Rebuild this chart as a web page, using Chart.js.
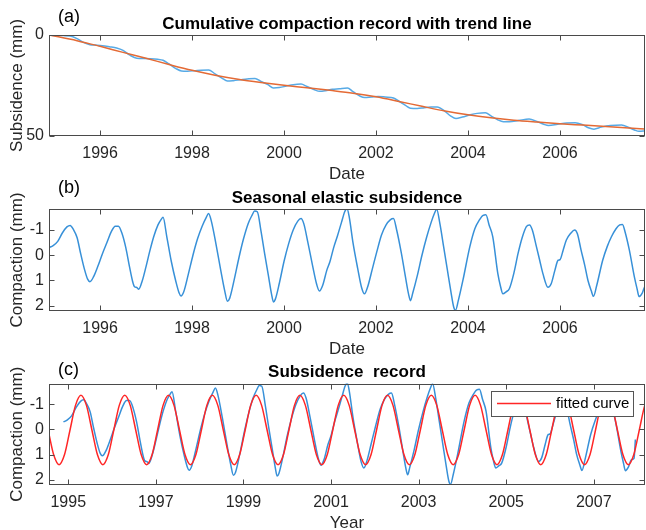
<!DOCTYPE html>
<html><head><meta charset="utf-8">
<script src="https://cdn.jsdelivr.net/npm/chart.js@4/dist/chart.umd.min.js"></script>
<style>
html,body{margin:0;padding:0;background:#fff;width:646px;height:530px;overflow:hidden;position:relative;}
canvas{position:absolute;left:0;}
</style></head><body>
<canvas id="ca" width="646" height="185" style="top:0px"></canvas>
<canvas id="cb" width="646" height="190" style="top:170px"></canvas>
<canvas id="cc" width="646" height="184" style="top:350px"></canvas>
<script>
// ---------- data ----------
const cumDates = [1994.89,1995.05,1995.20,1995.35,1995.50,1995.65,1995.78,1995.90,1996.05,1996.20,1996.36,1996.50,1996.65,1996.80,1996.95,1997.10,1997.25,1997.37,1997.50,1997.65,1997.77,1997.90,1998.05,1998.20,1998.36,1998.50,1998.65,1998.77,1998.90,1999.05,1999.20,1999.37,1999.50,1999.65,1999.77,1999.90,2000.05,2000.20,2000.37,2000.50,2000.65,2000.78,2000.90,2001.05,2001.20,2001.38,2001.50,2001.65,2001.75,2001.90,2002.05,2002.20,2002.38,2002.50,2002.65,2002.75,2002.90,2003.05,2003.20,2003.33,2003.50,2003.62,2003.74,2003.88,2004.05,2004.20,2004.38,2004.50,2004.65,2004.77,2004.90,2005.10,2005.33,2005.50,2005.65,2005.75,2005.95,2006.15,2006.33,2006.50,2006.62,2006.74,2006.90,2007.10,2007.34,2007.50,2007.62,2007.72,2007.86];
const cumValues = [0.0,0.2,0.3,0.5,1.8,3.8,4.8,5.0,5.3,5.8,6.4,7.6,10.0,11.5,11.6,11.7,12.0,12.5,14.3,16.6,17.8,17.9,17.7,17.4,17.3,19.2,21.3,22.8,22.6,22.2,21.8,21.5,23.0,24.6,26.2,26.0,25.3,24.6,24.3,25.5,27.0,27.9,27.6,26.9,26.6,26.2,28.0,30.2,31.0,30.7,30.4,30.7,31.2,32.8,35.0,36.3,36.4,36.0,35.7,35.6,37.8,40.0,41.3,40.6,39.5,38.8,38.5,40.0,42.0,42.9,42.9,42.3,41.6,42.8,44.2,44.8,44.2,43.6,43.4,44.5,45.9,46.6,45.6,44.8,44.6,45.8,47.0,47.7,47.5];

const trendDates = [1994.89,1995.5,1996,1996.5,1997,1997.5,1998,1998.5,1999,1999.5,2000,2000.5,2001,2001.5,2002,2002.5,2003,2003.5,2004,2004.5,2005,2005.5,2006,2006.5,2007,2007.5,2007.86];
const trendValues = [0,2.8,5.6,8.6,11.5,14.6,17.5,19.9,21.9,23.5,24.9,26.1,27.4,28.8,30.6,32.9,35.3,37.6,39.5,41.0,42.2,43.1,43.9,44.6,45.3,46.0,46.6];

const seasDates = [1994.89,1994.98,1995.08,1995.18,1995.28,1995.35,1995.42,1995.50,1995.58,1995.66,1995.73,1995.78,1995.86,1995.95,1996.05,1996.15,1996.25,1996.33,1996.40,1996.48,1996.56,1996.64,1996.71,1996.75,1996.80,1996.84,1996.92,1997.00,1997.08,1997.17,1997.26,1997.33,1997.37,1997.45,1997.55,1997.65,1997.72,1997.76,1997.82,1997.92,1998.02,1998.12,1998.22,1998.31,1998.36,1998.42,1998.52,1998.62,1998.71,1998.77,1998.82,1998.92,1999.02,1999.12,1999.22,1999.31,1999.36,1999.42,1999.50,1999.58,1999.66,1999.73,1999.77,1999.81,1999.90,2000.00,2000.10,2000.20,2000.30,2000.37,2000.43,2000.52,2000.62,2000.71,2000.77,2000.84,2000.93,2001.00,2001.08,2001.16,2001.25,2001.32,2001.37,2001.42,2001.50,2001.60,2001.69,2001.75,2001.82,2001.92,2002.02,2002.12,2002.22,2002.31,2002.38,2002.45,2002.55,2002.64,2002.71,2002.75,2002.80,2002.90,2003.00,2003.10,2003.20,2003.27,2003.32,2003.39,2003.47,2003.55,2003.63,2003.69,2003.73,2003.79,2003.89,2004.04,2004.15,2004.25,2004.33,2004.39,2004.46,2004.54,2004.65,2004.71,2004.76,2004.83,2004.90,2005.00,2005.09,2005.18,2005.27,2005.34,2005.40,2005.49,2005.56,2005.63,2005.74,2005.81,2005.89,2005.96,2006.00,2006.07,2006.14,2006.24,2006.32,2006.38,2006.46,2006.54,2006.61,2006.68,2006.73,2006.80,2006.93,2007.03,2007.12,2007.22,2007.30,2007.36,2007.42,2007.51,2007.62,2007.68,2007.72,2007.79,2007.86,2007.92,2007.95];
const seasValues = [-0.30,-0.38,-0.55,-0.88,-1.12,-1.18,-1.02,-0.70,-0.05,0.55,0.95,1.05,0.85,0.45,-0.05,-0.50,-0.95,-1.15,-1.15,-0.85,-0.30,0.45,1.05,1.25,1.28,1.35,1.00,0.45,-0.15,-0.75,-1.20,-1.42,-1.50,-0.75,0.25,1.05,1.50,1.62,1.45,0.75,0.00,-0.65,-1.15,-1.50,-1.65,-1.35,-0.45,0.55,1.40,1.82,1.70,0.95,0.10,-0.65,-1.25,-1.60,-1.75,-1.72,-0.95,-0.05,0.80,1.55,1.85,1.75,1.10,0.25,-0.45,-1.00,-1.35,-1.45,-1.25,-0.50,0.40,1.15,1.42,1.20,0.60,0.25,-0.30,-0.75,-1.30,-1.72,-1.85,-1.50,-0.50,0.50,1.30,1.53,1.25,0.55,-0.15,-0.80,-1.20,-1.40,-1.45,-1.00,-0.10,0.85,1.55,1.80,1.50,0.80,0.00,-0.70,-1.30,-1.65,-1.82,-1.25,-0.35,0.55,1.45,2.05,2.18,1.80,1.00,-0.33,-1.05,-1.40,-1.58,-1.60,-1.20,-0.73,0.73,1.25,1.53,1.45,1.33,0.70,-0.07,-0.70,-1.13,-1.20,-1.00,-0.33,0.20,0.73,1.27,1.13,0.60,0.20,0.18,-0.20,-0.60,-0.88,-1.00,-0.85,-0.20,0.40,1.00,1.40,1.63,1.20,0.20,-0.35,-0.73,-1.05,-1.20,-1.22,-0.90,-0.20,0.87,1.35,1.64,1.50,1.20,1.15,0.40];

const fitDates = [1994.54,1994.665,1994.79,1994.915,
1995.04,1995.165,1995.29,1995.415,1995.54,1995.665,1995.79,1995.915,
1996.04,1996.165,1996.29,1996.415,1996.54,1996.665,1996.79,1996.915,
1997.04,1997.165,1997.29,1997.415,1997.54,1997.665,1997.79,1997.915,
1998.04,1998.165,1998.29,1998.415,1998.54,1998.665,1998.79,1998.915,
1999.04,1999.165,1999.29,1999.415,1999.54,1999.665,1999.79,1999.915,
2000.04,2000.165,2000.29,2000.415,2000.54,2000.665,2000.79,2000.915,
2001.04,2001.165,2001.29,2001.415,2001.54,2001.665,2001.79,2001.915,
2002.04,2002.165,2002.29,2002.415,2002.54,2002.665,2002.79,2002.915,
2003.04,2003.165,2003.29,2003.415,2003.54,2003.665,2003.79,2003.915,
2004.04,2004.165,2004.29,2004.415,2004.54,2004.665,2004.79,2004.915,
2005.04,2005.165,2005.29,2005.415,2005.54,2005.665,2005.79,2005.915,
2006.04,2006.165,2006.29,2006.415,2006.54,2006.665,2006.79,2006.915,
2007.04,2007.165,2007.29,2007.415,2007.54,2007.665,2007.79,2007.915,
2008.04,2008.165,2008.29];
const fitValues = [0.02,1.0,1.4,1.0,
0.02,-0.96,-1.36,-0.96,0.02,1.0,1.4,1.0,
0.02,-0.96,-1.36,-0.96,0.02,1.0,1.4,1.0,
0.02,-0.96,-1.36,-0.96,0.02,1.0,1.4,1.0,
0.02,-0.96,-1.36,-0.96,0.02,1.0,1.4,1.0,
0.02,-0.96,-1.36,-0.96,0.02,1.0,1.4,1.0,
0.02,-0.96,-1.36,-0.96,0.02,1.0,1.4,1.0,
0.02,-0.96,-1.36,-0.96,0.02,1.0,1.4,1.0,
0.02,-0.96,-1.36,-0.96,0.02,1.0,1.4,1.0,
0.02,-0.96,-1.36,-0.96,0.02,1.0,1.4,1.0,
0.02,-0.96,-1.36,-0.96,0.02,1.0,1.4,1.0,
0.02,-0.96,-1.36,-0.96,0.02,1.0,1.4,1.0,
0.02,-0.96,-1.36,-0.96,0.02,1.0,1.4,1.0,
0.02,-0.96,-1.36,-0.96,0.02,1.0,1.4,1.0,
0.02,-0.96,-1.36];

const dateTicks = [1996,1998,2000,2002,2004,2006];
const yearTicks = [1995,1997,1999,2001,2003,2005,2007];
const subsTicks = [0,50];
const compTicks = [-1,0,1,2];

// ---------- helpers ----------
Chart.defaults.font.family = '"Liberation Sans", Arial, Helvetica, sans-serif';
const pts = (xs, ys) => xs.map((x, i) => ({x: x, y: ys[i]}));

function xScale(min, max, ticks, title) {
  return {
    type: 'linear', min: min, max: max,
    afterBuildTicks: s => { s.ticks = ticks.map(v => ({value: v})); },
    afterFit: s => { s.height = 49; },
    grid: {display: false, drawTicks: false}, border: {display: false},
    ticks: {padding: 8, color: '#262626', font: {size: 16}, maxRotation: 0, autoSkip: false, callback: v => String(v)},
    title: {display: true, text: title, color: '#262626', font: {size: 17}, padding: {top: 0, bottom: 0}}
  };
}
function yScale(min, max, ticks, title) {
  return {
    type: 'linear', reverse: true, min: min, max: max,
    afterBuildTicks: s => { s.ticks = ticks.map(v => ({value: v})); },
    afterFit: s => { s.width = 49; },
    grid: {display: false, drawTicks: false}, border: {display: false},
    ticks: {padding: 5, color: '#262626', font: {size: 16}, autoSkip: false, callback: v => String(v)},
    title: {display: true, text: title, color: '#262626', font: {size: 17}, padding: {top: 7, bottom: 0}}
  };
}

const deco = {
  id: 'deco',
  afterDraw(chart, args, o) {
    const ctx = chart.ctx, a = chart.chartArea;
    const xs = chart.scales.x, ys = chart.scales.y;
    ctx.save();
    ctx.strokeStyle = '#4a4a4a';
    ctx.lineWidth = 1;
    const L = Math.round(a.left) + 0.5, T = Math.round(a.top) + 0.5;
    const R = Math.round(a.right) - 0.5, B = Math.round(a.bottom) - 0.5;
    ctx.strokeRect(L, T, R - L, B - T);
    const tl = 5;
    ctx.beginPath();
    xs.ticks.forEach(t => {
      const p = Math.round(xs.getPixelForValue(t.value)) + 0.5;
      ctx.moveTo(p, B); ctx.lineTo(p, B - tl);
      ctx.moveTo(p, T); ctx.lineTo(p, T + tl);
    });
    ys.ticks.forEach(t => {
      const p = Math.round(ys.getPixelForValue(t.value)) + 0.5;
      ctx.moveTo(L, p); ctx.lineTo(L + tl, p);
      ctx.moveTo(R, p); ctx.lineTo(R - tl, p);
    });
    ctx.stroke();
    // panel label
    ctx.fillStyle = '#000';
    ctx.textBaseline = 'middle';
    ctx.textAlign = 'left';
    ctx.font = '18px "Liberation Sans", Arial, sans-serif';
    ctx.fillText(o.label, 58, o.labelY);
    // title
    ctx.textAlign = 'center';
    ctx.font = 'bold 17px "Liberation Sans", Arial, sans-serif';
    ctx.fillText(o.title, (a.left + a.right) / 2, o.titleY);
    // legend
    if (o.legend) {
      const ds = chart.data.datasets.find(d => d.label === o.legend);
      const bx = a.right - 154, by = a.top + 7.5, bw = 142, bh = 25;
      ctx.fillStyle = '#fff';
      ctx.fillRect(bx, by, bw, bh);
      ctx.strokeStyle = '#555';
      ctx.strokeRect(Math.round(bx) + 0.5, Math.round(by) + 0.5, bw, bh);
      const my = by + bh / 2;
      ctx.strokeStyle = ds.borderColor;
      ctx.lineWidth = 1.5;
      ctx.beginPath(); ctx.moveTo(bx + 6, my); ctx.lineTo(bx + 60, my); ctx.stroke();
      ctx.fillStyle = '#000';
      ctx.textAlign = 'left';
      ctx.font = '15px "Liberation Sans", Arial, sans-serif';
      ctx.fillText(ds.label, bx + 65, my + 0.5);
    }
    ctx.restore();
  }
};

function baseOpts(xs, ys, top, decoOpts) {
  return {
    responsive: false, animation: false, devicePixelRatio: 1,
    layout: {padding: {top: top, right: 1, left: 0, bottom: 0}},
    elements: {point: {radius: 0}},
    plugins: {legend: {display: false}, title: {display: false}, tooltip: {enabled: false}, deco: decoOpts},
    scales: {x: xs, y: ys}
  };
}

new Chart(document.getElementById('ca'), {
  type: 'line',
  data: {datasets: [
    {label: 'trend', data: pts(trendDates, trendValues), borderColor: '#e46a35', borderWidth: 1.5, cubicInterpolationMode: 'monotone', order: 0},
    {label: 'cumulative', data: pts(cumDates, cumValues), borderColor: '#57aae6', borderWidth: 1.5, cubicInterpolationMode: 'monotone', order: 1}
  ]},
  options: baseOpts(xScale(1994.89, 2007.85, dateTicks, 'Date'), yScale(0, 50, subsTicks, 'Subsidence (mm)'), 35,
    {label: '(a)', labelY: 17.5, title: 'Cumulative compaction record with trend line', titleY: 24}),
  plugins: [deco]
});

new Chart(document.getElementById('cb'), {
  type: 'line',
  data: {datasets: [
    {label: 'seasonal', data: pts(seasDates, seasValues), borderColor: '#3790d8', borderWidth: 1.5, cubicInterpolationMode: 'monotone'}
  ]},
  options: baseOpts(xScale(1994.89, 2007.85, dateTicks, 'Date'), yScale(-1.83, 2.21, compTicks, 'Compaction (mm)'), 39,
    {label: '(b)', labelY: 18.5, title: 'Seasonal elastic subsidence', titleY: 28.3}),
  plugins: [deco]
});

new Chart(document.getElementById('cc'), {
  type: 'line',
  data: {datasets: [
    {label: 'fitted curve', data: pts(fitDates, fitValues), borderColor: '#ff2626', borderWidth: 1.5, cubicInterpolationMode: 'monotone', order: 0},
    {label: 'record', data: pts(seasDates, seasValues), borderColor: '#3790d8', borderWidth: 1.5, cubicInterpolationMode: 'monotone', order: 1}
  ]},
  options: baseOpts(xScale(1994.56, 2008.17, yearTicks, 'Year'), yScale(-1.83, 2.21, compTicks, 'Compaction (mm)'), 33.5,
    {label: '(c)', labelY: 20, title: 'Subsidence  record', titleY: 22, legend: 'fitted curve'}),
  plugins: [deco]
});
</script>
</body></html>
